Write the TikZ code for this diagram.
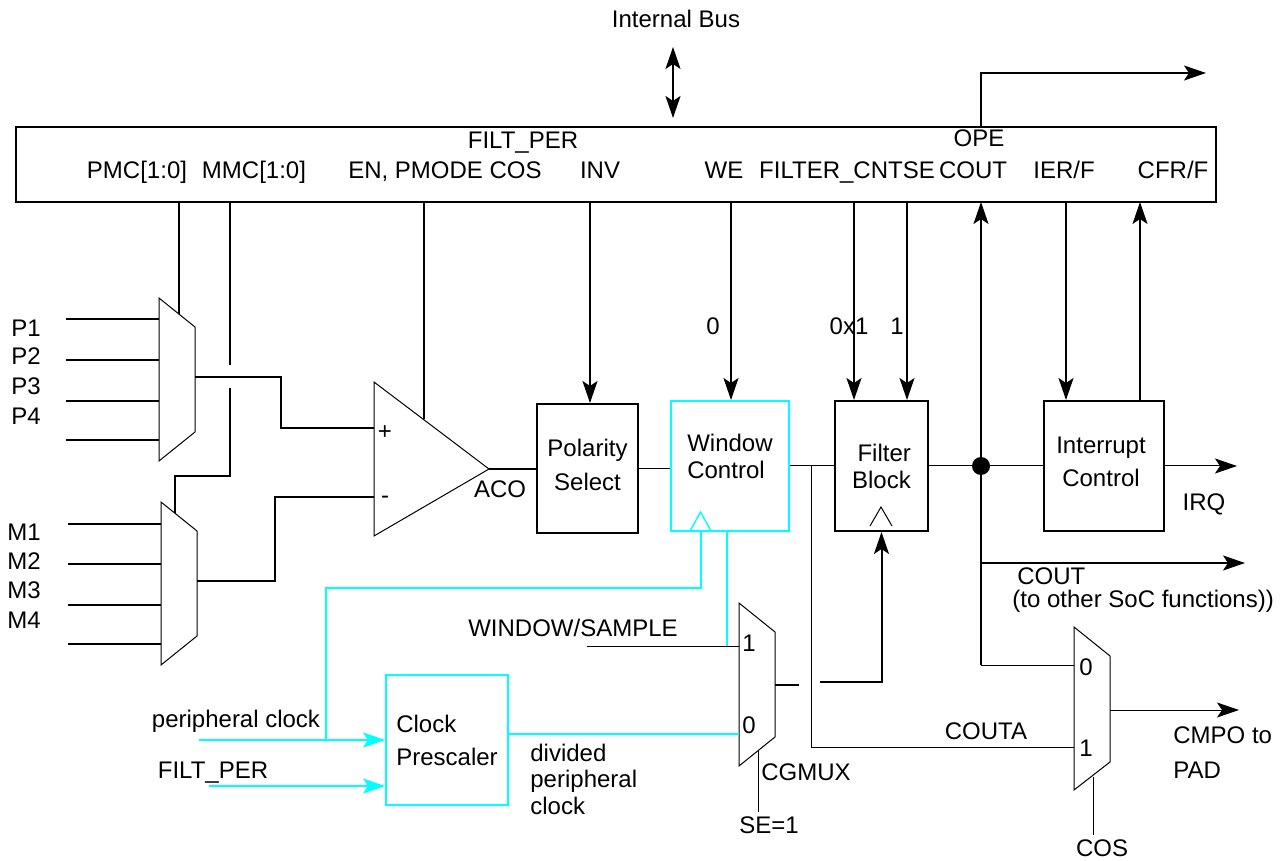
\documentclass[tikz,border=0pt]{standalone}
\usepackage{fontspec}
\setmainfont{Liberation Sans}
\usetikzlibrary{positioning,calc,arrows.meta}

\definecolor{clk}{RGB}{0,255,255}

\tikzset{
  blk/.style={draw,line width=1pt,inner sep=0pt,align=center},
  cblk/.style={blk,draw=clk},
  txt/.style={inner sep=0pt,text height=8.6pt,text depth=0pt},
  mtxt/.style={inner sep=0pt,align=left},
  lsk/.style={font=\fontsize{12}{#1}\selectfont},
  thk/.style={line width=1pt},
  thn/.style={line width=0.5pt},
  cyn/.style={draw=clk,line width=0.7pt},
  mux/.style={draw,line width=0.5pt}
}

\begin{document}
\begin{tikzpicture}[x=0.5pt,y=-0.5pt,font=\fontsize{12}{14}\selectfont,
  >={Stealth[length=11pt,width=7.5pt,inset=2.5pt]}]

\useasboundingbox (0,0) rectangle (1281,861);

% register block
\node[blk,line width=1.2pt,minimum width=600pt,minimum height=37.5pt] (reg) at (616,164.5) {};
\node[txt] (bus)     at (676,19)   {Internal Bus};
\node[txt] (filtper) at (523,140)  {FILT\_PER};
\node[txt] (ope)     at (979,138)  {OPE};
\node[txt] (pmc)     at (137,170)  {PMC[1:0]};
\node[txt] (mmc)     at (254,170)  {MMC[1:0]};
\node[txt] (en)      at (445,170)  {EN, PMODE COS};
\node[txt] (inv)     at (600,170)  {INV};
\node[txt] (we)      at (724,170)  {WE};
\node[txt] (cntse)   at (847,170)  {FILTER\_CNTSE};
\node[txt] (cout)    at (973,170)  {COUT};
\node[txt] (ier)     at (1064,170) {IER/F};
\node[txt] (cfr)     at (1173,170) {CFR/F};

\coordinate (busT)  at (673,47);
\coordinate (busB)  at (673,118);
\coordinate (kPMC)  at (179,202);
\coordinate (kMMC)  at (230,202);
\coordinate (kEN)   at (424,202);
\coordinate (kINV)  at (590,202);
\coordinate (kWE)   at (731,202);
\coordinate (kCNT)  at (854,202);
\coordinate (kSE)   at (907,202);
\coordinate (kCOUT) at (981,202);
\coordinate (kIER)  at (1066,202);
\coordinate (kCFR)  at (1140,202);
\coordinate (kOPE)  at (981,127);
\coordinate (opeOut) at (1206,73);

% blocks
\node[blk,minimum width=50.5pt,minimum height=64.5pt] (pol) at (587.5,468.5) {};
\node[inner sep=0pt,lsk=17pt,align=center] (poltxt) at (587.5,465) {Polarity\\Select};
\node[cblk,minimum width=59pt,minimum height=65pt] (win) at (730,466) {};
\node[mtxt,lsk=13.5pt] (wintxt) at (730,456) {Window\\Control};
\node[blk,lsk=13.5pt,align=right,minimum width=46.5pt,minimum height=65pt] (filt) at (881.5,466) {Filter\\Block};
\node[blk,minimum width=60pt,minimum height=65pt] (intr) at (1104,466) {};
\node[inner sep=0pt,lsk=16.5pt,align=center] (intrtxt) at (1101,461.5) {Interrupt\\Control};
\node[cblk,lsk=16.5pt,align=left,minimum width=61pt,minimum height=65pt] (pres) at (447,740) {Clock\\Prescaler};

% clock marks
\draw[thn] (870,526) -- (881,507) -- (892,526);
\draw[cyn] (690,531) -- (700.5,512) -- (711,531);

% input multiplexers
\coordinate (pmx) at (159,298);
\coordinate (mmx) at (161,502);
\draw[mux] (pmx) -- (195,327) -- (195,432) -- (159,461) -- cycle;
\draw[mux] (mmx) -- (197,531) -- (197,636) -- (161,665) -- cycle;
\foreach \i/\y in {1/319,2/360,3/401,4/440}
  {\coordinate (p\i) at (66,\y);
   \draw[thk] (p\i) -- (p\i -| pmx);}
\foreach \i/\y in {1/524,2/564,3/605,4/644}
  {\coordinate (m\i) at (68,\y);
   \draw[thk] (m\i) -- (m\i -| mmx);}
\foreach \i/\y in {1/328,2/356,3/386,4/416}
  {\node[txt] (lp\i) at (26,\y) {P\i};}
\foreach \i/\y in {1/532,2/561,3/590,4/620}
  {\node[txt] (lm\i) at (24,\y) {M\i};}

% comparator
\coordinate (cp)  at (374,428);
\coordinate (cm)  at (374,497);
\coordinate (aco) at (489,469);
\draw[thn] (374,382) -- (aco) -- (374,536) -- cycle;
\node[txt] (plus)  at (385,431) {+};
\node[txt] (minus) at (385,495) {-};
\node[txt] (acol)  at (500,489) {ACO};

\draw[thk] (195,377) -- (281,377) -- (281,428) -- (cp);
\draw[thk] (197,581) -- (275,581) -- (275,497) -- (cm);

% control lines
\draw[thk,<->] (busT) -- (busB);
\draw[thk,->] (kOPE) -- (kOPE |- opeOut) -- (opeOut);
\draw[thk] (kPMC) -- (179,314);
\draw[thk] (kMMC) -- (230,365);
\draw[thk] (230,388) -- (230,476) -- (175,476) -- (175,513);
\draw[thk] (kEN) -- (424,419);
\draw[thk,->] (kINV) -- (kINV |- pol.north);
\draw[thk,->] (kWE) -- (kWE |- win.north);
\draw[thk,->] (kCNT) -- (kCNT |- filt.north);
\draw[thk,->] (kSE) -- (kSE |- filt.north);
\draw[thk,->] (kIER) -- (kIER |- intr.north);
\draw[thk,->] (kCFR |- intr.north) -- (kCFR);
\node[txt] (we0)  at (713,326) {0};
\node[txt] (cnt0) at (849,326) {0x1};
\node[txt] (se1)  at (897,326) {1};

% main signal path
\coordinate (jn) at (filt.east -| kCOUT);
\coordinate (wf) at (811,466);
\coordinate (irqOut)  at (1237,466);
\coordinate (coutOut) at (1245,563);
\draw[thk] (aco) -- (aco -| pol.west);
\draw[thn] (pol.east) -- (pol.east -| win.west);
\draw[thn] (win.east) -- (filt.west);
\draw[thn] (filt.east) -- (intr.west);
\fill (jn) circle (4.5pt);
\draw[thk,->] (jn) -- (kCOUT);
\draw[thn,->] (intr.east) -- (irqOut);
\node[txt] (irq) at (1204,502) {IRQ};
\draw[thk,->] (jn |- coutOut) -- (coutOut);
\node[mtxt,lsk=11.5pt,anchor=west] (coutl) at (1012,590) {\hspace{2.5pt}COUT\\(to other SoC functions))};

% output multiplexer
\coordinate (cos0) at (1074,665);
\coordinate (cos1) at (1074,747);
\coordinate (cmpoOut) at (1239,710);
\draw[mux] (1074,627) -- (1110,656) -- (1110,762) -- (1074,790) -- cycle;
\node[txt] (cos0l) at (1086,667) {0};
\node[txt] (cos1l) at (1086,748) {1};
\draw[thk] (jn) -- (jn |- cos0);
\draw[thn] (jn |- cos0) -- (cos0);
\draw[thn] (wf) -- (wf |- cos1) -- (cos1);
\node[txt] (couta) at (986,731) {COUTA};
\draw[thn,->] (1110,710) -- (cmpoOut);
\node[mtxt,lsk=17.5pt,anchor=west] (cmpo) at (1173,753) {CMPO to\\PAD};
\draw[thn] (1093,777) -- (1093,835);
\node[txt] (cosl) at (1102,848) {COS};

% clock multiplexer
\coordinate (cg1) at (739,646);
\coordinate (cg0) at (739,734);
\draw[mux] (739,603) -- (775,632) -- (775,737) -- (739,766) -- cycle;
\node[txt] (cg1l) at (749,643) {1};
\node[txt] (cg0l) at (749,725) {0};
\node[txt] (ws) at (573,628) {WINDOW/SAMPLE};
\draw[thn] (587,646) -- (cg1);
\draw[thk] (775,685) -- (799,685);
\draw[thk,->] (820,682) -- (filt.south |- 0,682) -- (filt.south);
\draw[thn] (758,750) -- (758,812);
\node[txt] (cgmux) at (806,772) {CGMUX};
\node[txt] (sel)   at (769,825) {SE=1};

% clock signals
\coordinate (pclk) at (199,740);
\coordinate (fper) at (209,786);
\draw[cyn] (win.south -| 727,0) -- (727,646);
\draw[cyn] (win.south -| 701,0) -- (701,588) -- (326,588) -- (326,740);
\draw[cyn,line width=1pt,->] (pclk) -- (pclk -| pres.west);
\draw[cyn,line width=1pt,->] (fper) -- (fper -| pres.west);
\draw[cyn,line width=1pt] (pres.east |- cg0) -- (cg0);
\node[txt] (pclkl) at (236,719) {peripheral clock};
\node[txt] (fperl) at (213,770) {FILT\_PER};
\node[mtxt,lsk=13.25pt,anchor=west] (divl) at (530,779) {divided\\peripheral\\clock};

\end{tikzpicture}
\end{document}
